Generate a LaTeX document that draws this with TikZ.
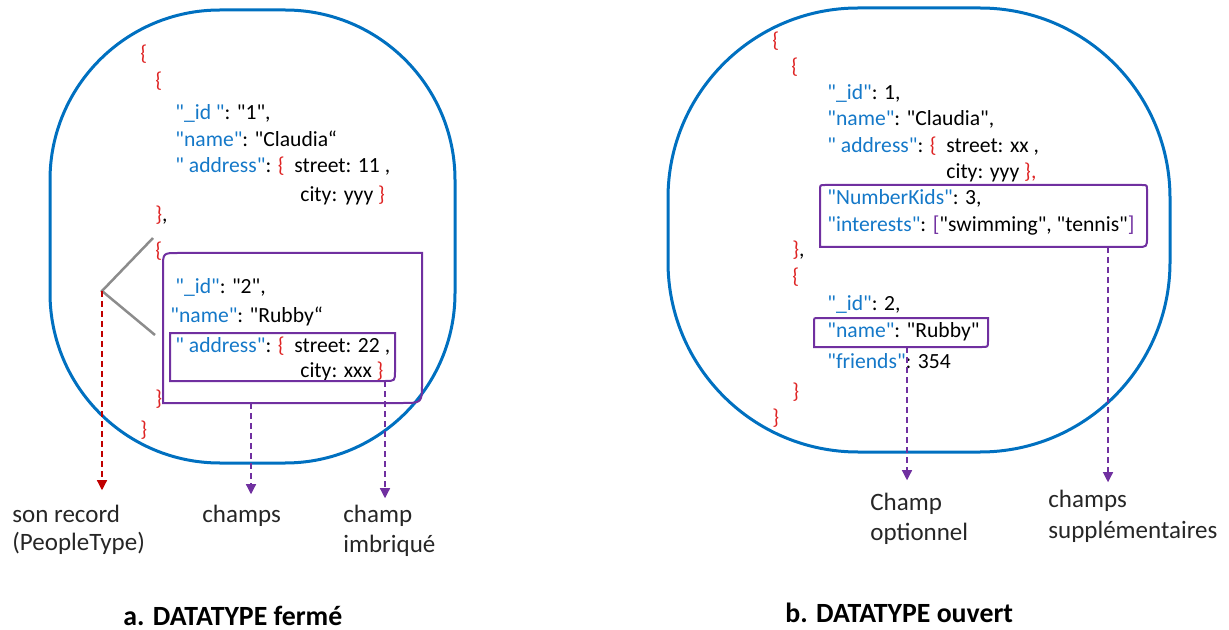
\documentclass[tikz,border=0pt]{standalone}
\usepackage{fontspec}
\setmainfont{Carlito}[Ligatures=TeXOff]
\usetikzlibrary{arrows.meta}
\definecolor{frameblue}{RGB}{0,112,192}
\definecolor{keyblue}{RGB}{20,120,200}
\definecolor{bracered}{RGB}{222,36,36}
\definecolor{markpurple}{RGB}{112,48,160}
\definecolor{arrowred}{RGB}{192,0,0}
\definecolor{linegray}{RGB}{140,140,140}
\newcommand{\jkey}[1]{\textcolor{keyblue}{#1}}
\newcommand{\jbr}[1]{\textcolor{bracered}{#1}}
\newcommand{\jsq}[1]{\textcolor{markpurple}{#1}}

\begin{document}
\begin{tikzpicture}[x=0.5pt,y=-0.5pt,>={Triangle[length=5pt,width=5pt]},
  jline/.style={anchor=base west,inner sep=0pt,font=\fontsize{10.8}{13}\selectfont},
  lbl/.style={anchor=base west,inner sep=0pt,font=\fontsize{12.5}{15}\selectfont,text=black!85},
  ttl/.style={anchor=base west,inner sep=0pt,font=\fontsize{13.9}{16}\selectfont\bfseries},
  blob/.style={draw=frameblue,line width=1.5pt},
  markbox/.style={draw=markpurple,line width=1pt},
  pdash/.style={markpurple,densely dashed,line width=0.6pt,->},
  rdash/.style={arrowred,densely dashed,line width=0.6pt,->}]
\useasboundingbox (0,0) rectangle (1229,630);
\draw[blob,rounded corners=85pt] (50,10) rectangle (455,463);
\draw[blob,rounded corners=95pt] (668,8) rectangle (1170,452);

\node[jline] (a0) at (140,61) {\jbr{\{}};
\node[jline] (a1) at (155,88) {\jbr{\{}};
\node[jline] (a2) at (175,120) {\jkey{"\_id "}: "1",};
\node[jline] (a3) at (175,147) {\jkey{"name"}: "Claudia“};
\node[jline] (a4) at (175,173) {\jkey{" address"}: \jbr{\{}\ \ street: 11 ,};
\node[jline] (a5) at (300,202) {city: yyy \jbr{\}}};
\node[jline] (a6) at (155,222) {\jbr{\}},};
\node[jline] (a7) at (155,258) {\jbr{\{}};
\node[jline] (a8) at (175,293) {\jkey{"\_id"}: "2",};
\node[jline] (a9) at (170,322) {\jkey{"name"}: "Rubby“};
\node[jline] (a10) at (175,352) {\jkey{" address"}: \jbr{\{}\ \ street: 22 ,};
\node[jline] (a11) at (300,377) {city: xxx \jbr{\}}};
\node[jline] (a12) at (155,405) {\jbr{\}}};
\node[jline] (a13) at (140,436) {\jbr{\}}};

\draw[markbox] (163,403) -- (163,268) .. controls (163,253) .. (178,253) -- (422,253) -- (422,383) .. controls (422,403) .. (402,403) -- cycle;
\draw[markbox] (170,381) -- (170,333) -- (395,333) -- (395,371) .. controls (395,381) .. (385,381) -- cycle;

\coordinate (recTip) at (102,291);
\coordinate (g1) at (153,238);
\coordinate (g2) at (155,335);
\coordinate (boxA) at (251,403);
\coordinate (inA) at (385,381);
\draw[linegray,line width=1.25pt] (g1) -- (recTip) -- (g2);

\node[lbl] (recA1) at (12,522) {son record};
\node[lbl] (recA2) at (12,550) {(PeopleType)};
\node[lbl] (fldA) at (202,522) {champs};
\node[lbl] (nestA1) at (343,522) {champ};
\node[lbl] (nestA2) at (343,552) {imbriqué};
\node[ttl] (ttlA) at (123,625) {a. DATATYPE fermé};

\draw[rdash,shorten >=7pt] (recTip) -- (recTip |- recA1.north);
\draw[pdash,shorten >=5pt] (boxA) -- (boxA |- fldA.north);
\draw[pdash,shorten >=3pt] (inA) -- (inA |- nestA1.north);

\node[jline] (b0) at (772,48) {\jbr{\{}};
\node[jline] (b1) at (791,74) {\jbr{\{}};
\node[jline] (b2) at (827,100) {\jkey{"\_id"}: 1,};
\node[jline] (b3) at (827,126) {\jkey{"name"}: "Claudia",};
\node[jline] (b4) at (827,153) {\jkey{" address"}: \jbr{\{}\ \ street: xx ,};
\node[jline] (b5) at (946,179) {city: yyy \jbr{\},}};
\node[jline] (b6) at (827,205) {\jkey{"NumberKids"}: 3,};
\node[jline] (b7) at (827,232) {\jkey{"interests"}: \jsq{[}"swimming", "tennis"\jsq{]}};
\node[jline] (b8) at (792,257) {\jbr{\}},};
\node[jline] (b9) at (792,284) {\jbr{\{}};
\node[jline] (b10) at (827,310) {\jkey{"\_id"}: 2,};
\node[jline] (b11) at (827,337) {\jkey{"name"}: "Rubby"};
\node[jline] (b12) at (827,368) {\jkey{"friends"}: 354};
\node[jline] (b13) at (792,398) {\jbr{\}}};
\node[jline] (b14) at (772,424) {\jbr{\}}};

\draw[markbox] (820,247) -- (820,190) .. controls (820,185) .. (825,185) -- (1142,185) .. controls (1147,185) .. (1147,190) -- (1147,237) .. controls (1147,247) .. (1137,247) -- cycle;
\draw[markbox] (814,347) -- (814,322) .. controls (814,318) .. (818,318) -- (988,318) -- (988,341) .. controls (988,347) .. (982,347) -- cycle;

\coordinate (boxB1) at (1108,247);
\coordinate (boxB2) at (907,347);

\node[lbl] (optB1) at (870,510) {Champ};
\node[lbl] (optB2) at (870,540) {optionnel};
\node[lbl] (extB1) at (1048,507) {champs};
\node[lbl] (extB2) at (1048,538) {supplémentaires};
\node[ttl] (ttlB) at (785,622) {b. DATATYPE ouvert};

\draw[pdash,shorten >=6pt] (boxB2) -- (boxB2 |- optB1.north);
\draw[pdash,shorten >=3.5pt] (boxB1) -- (boxB1 |- extB1.north);
\end{tikzpicture}
\end{document}
